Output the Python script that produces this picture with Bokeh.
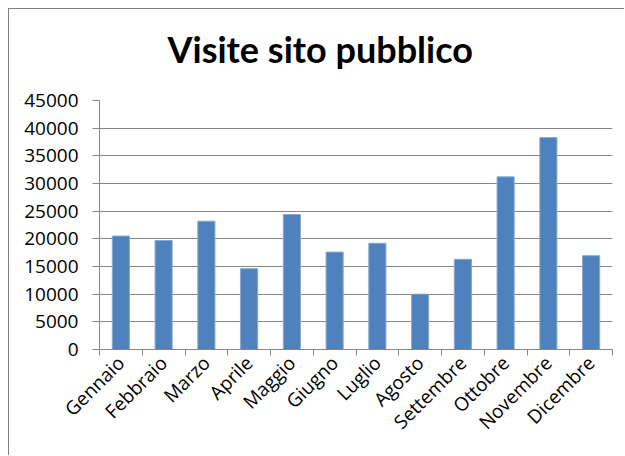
import math
from bokeh.plotting import figure
from bokeh.models import FixedTicker, Range1d, NumeralTickFormatter, Title
from bokeh.embed import file_html
from bokeh.resources import INLINE

# ---- data ----
months = ["Gennaio", "Febbraio", "Marzo", "Aprile", "Maggio", "Giugno",
          "Luglio", "Agosto", "Settembre", "Ottobre", "Novembre", "Dicembre"]
visits = [20500, 19700, 23200, 14600, 24400, 17600,
          19200, 10000, 16300, 31200, 38300, 16950]
y_ticks = [0, 5000, 10000, 15000, 20000, 25000, 30000, 35000, 40000, 45000]
title_text = "Visite sito pubblico"

x_pos = [i + 0.5 for i in range(len(months))]
boundaries = list(range(len(months) + 1))

GRAY = "#868686"

p = figure(width=616, height=447, output_backend="svg", toolbar_location=None,
           title=None,
           x_range=Range1d(0, len(months)), y_range=Range1d(0, y_ticks[-1]),
           min_border_left=90, min_border_right=13, min_border_top=91,
           min_border_bottom=107, outline_line_color=None)

# outer chart-area border: left and top edges are visible in the reference
p.styles = {"margin-left": "8px", "margin-top": "8px",
            "border-left": "1px solid #808080", "border-top": "1px solid #808080"}

# spacer between the plot area and the title
p.add_layout(Title(text=" ", text_font_size="1px", standoff=27), "above")
p.add_layout(Title(text=title_text, align="left", offset=68, standoff=0,
                   text_font="Lato", text_font_size="36px",
                   text_font_style="bold", text_color="black"), "above")

p.vbar(x=x_pos, top=visits, width=0.4, fill_color="#4F81BD",
       line_color="#86a8d4", line_width=1)

xa = p.xaxis[0]
xa.ticker = FixedTicker(ticks=x_pos, minor_ticks=boundaries)
xa.major_label_overrides = {xv: m for xv, m in zip(x_pos, months)}
xa.major_tick_out = 0
xa.major_tick_in = 0
xa.minor_tick_out = 6
xa.minor_tick_in = 0
xa.minor_tick_line_color = GRAY
xa.axis_line_color = GRAY
xa.major_label_orientation = math.pi / 4
xa.major_label_standoff = 4

ya = p.yaxis[0]
ya.ticker = FixedTicker(ticks=y_ticks)
ya.formatter = NumeralTickFormatter(format="0")
ya.major_tick_out = 7
ya.major_tick_in = 0
ya.minor_tick_out = 0
ya.minor_tick_in = 0
ya.major_tick_line_color = GRAY
ya.axis_line_color = GRAY
ya.major_label_standoff = 14

for ax in (xa, ya):
    ax.major_label_text_font = "Open Sans"
    ax.major_label_text_font_size = "19px"
    ax.major_label_text_color = "black"

p.xgrid.visible = False
p.ygrid.ticker = FixedTicker(ticks=y_ticks)
p.ygrid.grid_line_color = GRAY
p.ygrid.grid_line_width = 1

open("out.html", "w").write(file_html(p, INLINE))
